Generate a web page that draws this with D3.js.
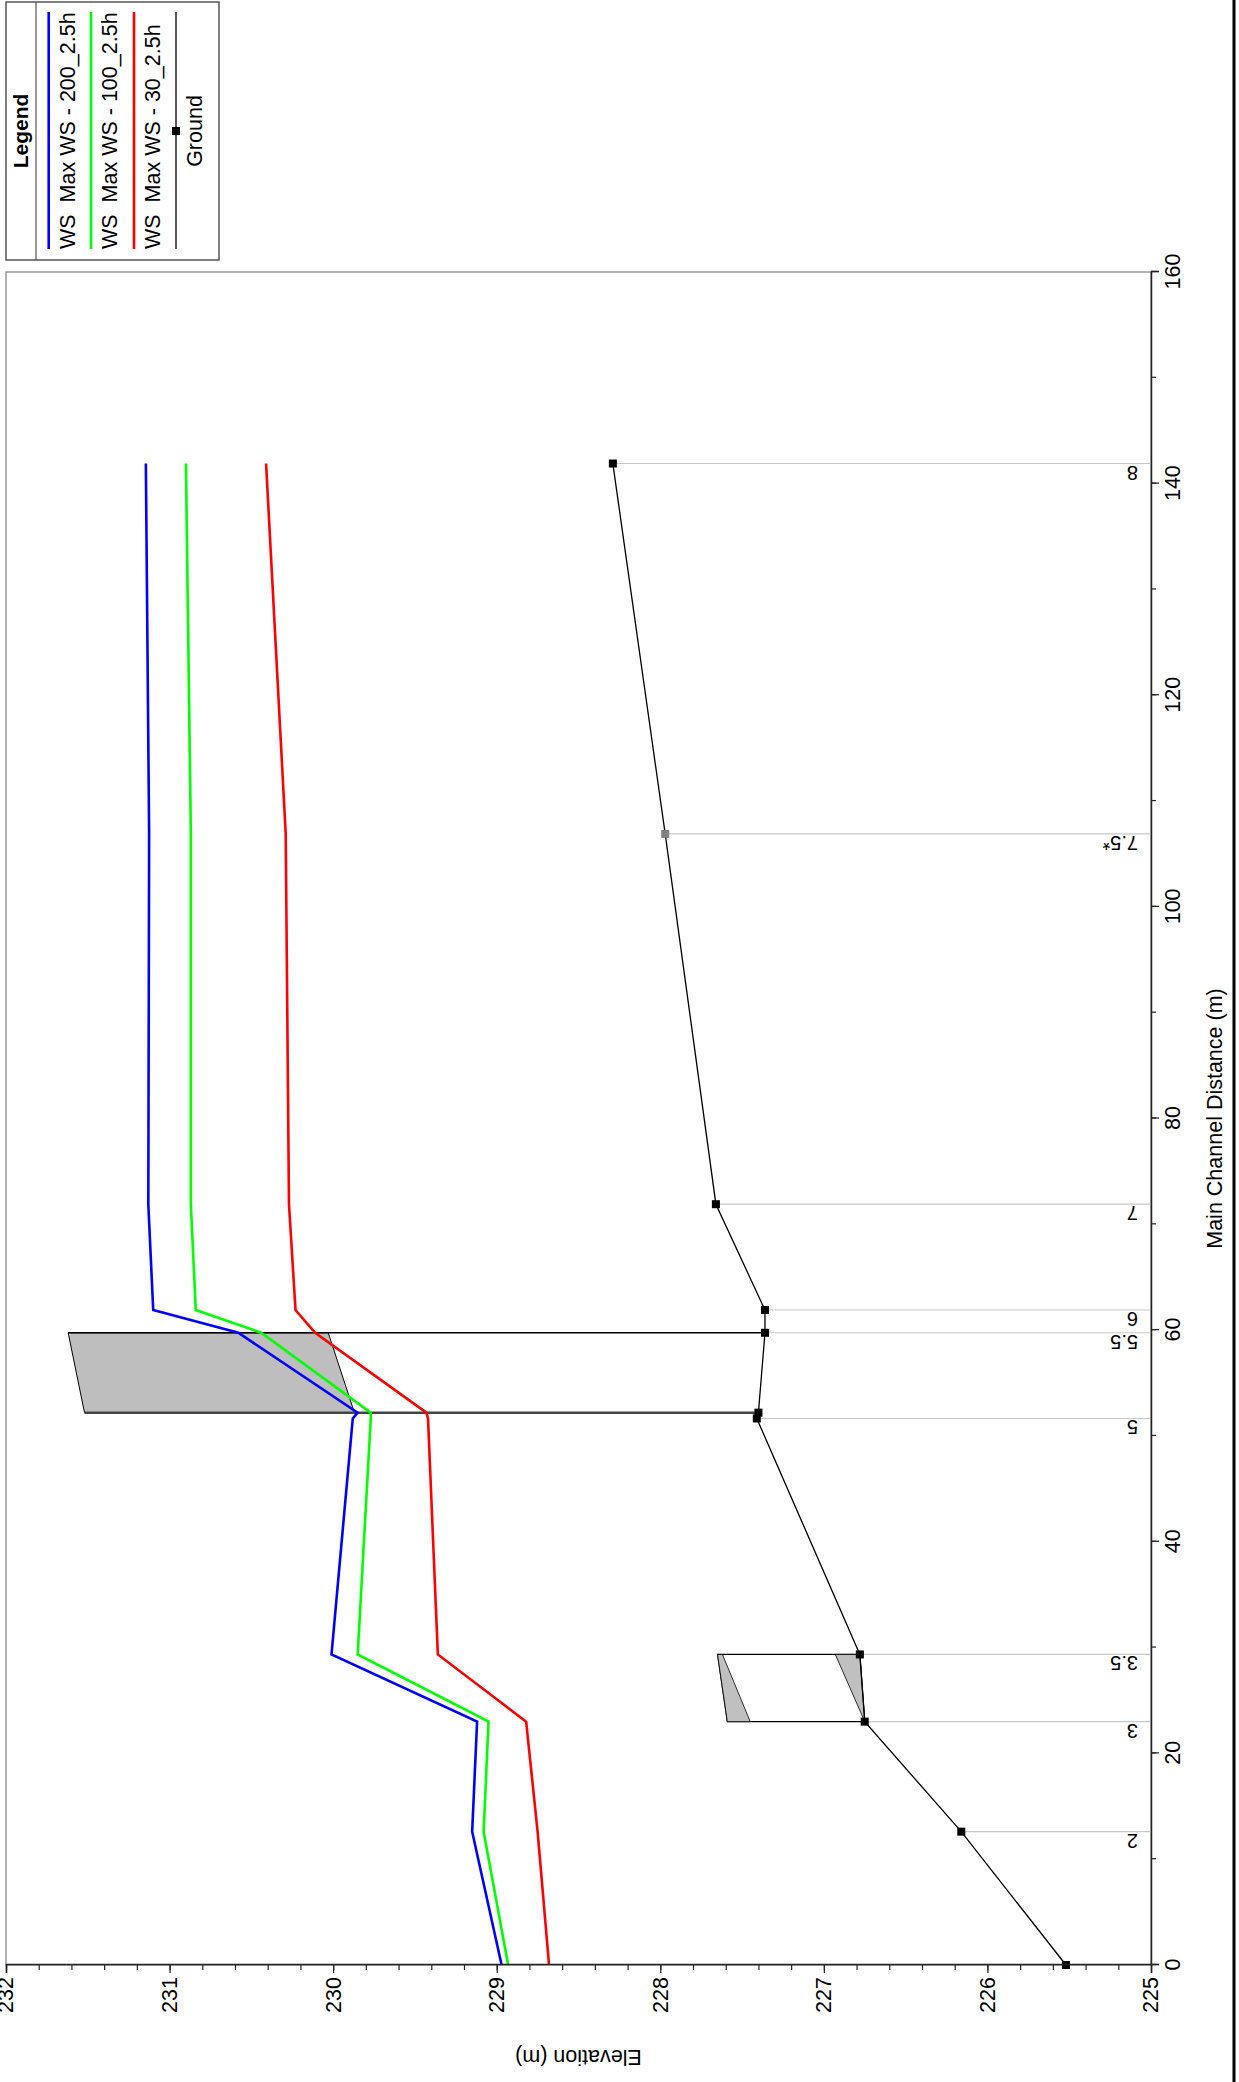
<!DOCTYPE html>
<html>
<head>
<meta charset="utf-8">
<script src="https://cdn.jsdelivr.net/npm/d3@7"></script>
<style>
  html, body { margin: 0; padding: 0; background: #fff; }
  svg { display: block; }
  text { font-family: Arial, "Liberation Sans", sans-serif; }
</style>
</head>
<body>
<svg id="chart" width="1239" height="2082"></svg>
<script>
// ---------- data ----------
const profileDist = [0, 12.6, 23.0, 29.35, 51.65, 52.2, 59.75, 61.9, 71.9, 106.9, 141.9];
const wsMax200 = [228.97, 229.15, 229.12, 230.01, 229.88, 229.85, 230.58, 231.10, 231.13, 231.125, 231.145];
const wsMax100 = [228.93, 229.08, 229.05, 229.85, 229.77, 229.77, 230.44, 230.84, 230.87, 230.87, 230.90];
const wsMax30  = [228.68, 228.75, 228.82, 229.36, 229.42, 229.43, 230.11, 230.23, 230.27, 230.29, 230.41];
const groundElev = [225.52, 226.16, 226.75, 226.78, 227.41, 227.40, 227.36, 227.36, 227.66, 227.97, 228.29];
const groundInterp = [false, false, false, false, false, false, false, false, false, true, false];

const stationLabels = ["2", "3", "3.5", "5", "5.5", "6", "7", "7.5*", "8"];
const stationDist   = [12.6, 23.0, 29.35, 51.65, 59.75, 61.9, 71.9, 106.9, 141.9];
const stationGround = [226.16, 226.75, 226.78, 227.41, 227.36, 227.36, 227.66, 227.97, 228.29];

// structures [distance, elevation]
const bigDeck = [[59.75, 231.62], [52.2, 231.52], [52.2, 229.87], [59.75, 230.03]];
const bigFaceUp = [[59.75, 231.62], [59.75, 227.36]];
const bigFaceDown = [[52.2, 231.52], [52.2, 227.40]];
const smallOutline = [[29.35, 227.65], [29.35, 226.78], [23.0, 226.75], [23.0, 227.59]];
const smallGrayLeft = [[29.35, 227.65], [29.35, 227.62], [23.0, 227.45], [23.0, 227.59]];
const smallGrayRight = [[29.35, 226.93], [29.35, 226.78], [23.0, 226.75]];

const distTicks = [0, 20, 40, 60, 80, 100, 120, 140, 160];
const distMinor = d3.range(0, 161, 10);
const elevTicks = [225, 226, 227, 228, 229, 230, 231, 232];
const elevMinor = d3.range(0, 36).map(i => +(225 + i * 0.2).toFixed(1));

const seriesNames = ["WS  Max WS - 200_2.5h", "WS  Max WS - 100_2.5h", "WS  Max WS - 30_2.5h"];
const seriesColors = ["#0000ff", "#00ff00", "#ff0000"];
const seriesValues = [wsMax200, wsMax100, wsMax30];

// ---------- layout (drawn in landscape, rotated into the portrait page) ----------
const W = 2082, H = 1239;
const svg = d3.select("#chart");
const root = svg.append("g").attr("transform", `translate(0,${W}) rotate(-90)`);

const x = d3.scaleLinear().domain([0, 160]).range([117, 1810]);
const y = d3.scaleLinear().domain([225, 232]).range([1151, 6]);
const FONT = 'Arial, "Liberation Sans", sans-serif';

// bottom page rule
root.append("line").attr("x1", 0).attr("x2", W).attr("y1", 1234).attr("y2", 1234)
  .attr("stroke", "#000").attr("stroke-width", 3);

// plot frame
root.append("rect").attr("x", x(0)).attr("y", y(232)).attr("width", x(160) - x(0)).attr("height", y(225) - y(232))
  .attr("fill", "none").attr("stroke", "#808080").attr("stroke-width", 1.2);

// station drop lines
const line = d3.line().x(d => x(d[0])).y(d => y(d[1]));
root.append("g").selectAll("line").data(stationDist).join("line")
  .attr("x1", d => x(d)).attr("x2", d => x(d))
  .attr("y1", (d, i) => y(stationGround[i])).attr("y2", y(225))
  .attr("stroke", "#c8c8c8").attr("stroke-width", 1.2);

// station labels
root.append("g").selectAll("text").data(stationLabels).join("text")
  .attr("transform", (d, i) => `translate(${x(stationDist[i]) - 2},${y(225) - 13}) rotate(-90)`)
  .attr("text-anchor", "start").attr("font-size", 20).attr("fill", "#000").text(d => d);

// small structure
root.append("path").attr("d", line(smallOutline) + "Z").attr("fill", "#fff").attr("stroke", "#000").attr("stroke-width", 1.2);
root.append("path").attr("d", line(smallGrayLeft) + "Z").attr("fill", "#c0c0c0").attr("stroke", "#000").attr("stroke-width", 0.8);
root.append("path").attr("d", line(smallGrayRight) + "Z").attr("fill", "#c0c0c0").attr("stroke", "#000").attr("stroke-width", 0.8);

// big structure
root.append("path").attr("d", line(bigDeck) + "Z").attr("fill", "#bebebe").attr("stroke", "#000").attr("stroke-width", 1);
root.append("path").attr("d", line(bigFaceUp)).attr("stroke", "#000").attr("stroke-width", 1.5).attr("fill", "none");
root.append("path").attr("d", line(bigFaceDown)).attr("stroke", "#444").attr("stroke-width", 2.5).attr("fill", "none");

// ground line
const groundPts = profileDist.map((d, i) => [d, groundElev[i]]);
root.append("path").attr("d", line(groundPts)).attr("fill", "none").attr("stroke", "#000").attr("stroke-width", 1.3);

// water surface lines
seriesValues.forEach((vals, k) => {
  const pts = profileDist.map((d, i) => [d, vals[i]]);
  root.append("path").attr("d", line(pts)).attr("fill", "none")
    .attr("stroke", seriesColors[k]).attr("stroke-width", 2.6).attr("stroke-linejoin", "miter");
});

// ground markers
root.append("g").selectAll("rect").data(groundPts).join("rect")
  .attr("x", d => x(d[0]) - 4).attr("y", d => y(d[1]) - 4).attr("width", 8).attr("height", 8)
  .attr("fill", (d, i) => groundInterp[i] ? "#808080" : "#000");

// axes
const xAxis = root.append("g").attr("transform", `translate(0,${y(225)})`)
  .call(d3.axisBottom(x).tickValues(distTicks).tickSize(8).tickPadding(6).tickFormat(d3.format("d")));
root.append("g").attr("transform", `translate(0,${y(225)})`)
  .call(d3.axisBottom(x).tickValues(distMinor).tickSize(5).tickFormat(""))
  .call(g => g.select(".domain").remove());
const yAxis = root.append("g").attr("transform", `translate(${x(0)},0)`)
  .call(d3.axisLeft(y).tickValues(elevTicks).tickSize(8).tickPadding(4).tickFormat(d3.format("d")));
root.append("g").attr("transform", `translate(${x(0)},0)`)
  .call(d3.axisLeft(y).tickValues(elevMinor).tickSize(5).tickFormat(""))
  .call(g => g.select(".domain").remove());
root.selectAll(".domain").attr("stroke", "#222").attr("stroke-width", 1.5);
root.selectAll(".tick line").attr("stroke", "#222").attr("stroke-width", 1.2);
[xAxis, yAxis].forEach(a => a.selectAll("text").attr("font-size", 21.5).attr("font-family", FONT).attr("fill", "#000"));

// axis titles
root.append("text").attr("x", (x(0) + x(160)) / 2).attr("y", 1222)
  .attr("text-anchor", "middle").attr("font-size", 21.5).text("Main Channel Distance (m)");
root.append("text").attr("transform", `translate(32,${(y(225) + y(232)) / 2}) rotate(-90)`)
  .attr("text-anchor", "middle").attr("font-size", 21.5).text("Elevation (m)");

// legend
const lg = root.append("g");
const lx0 = 1822, lx1 = 2080, ly0 = 6, ly1 = 219;
lg.append("rect").attr("x", lx0).attr("y", ly0).attr("width", lx1 - lx0).attr("height", ly1 - ly0)
  .attr("fill", "#fff").attr("stroke", "#555").attr("stroke-width", 1.5);
lg.append("line").attr("x1", lx0).attr("x2", lx1).attr("y1", 36).attr("y2", 36).attr("stroke", "#555").attr("stroke-width", 1.2);
lg.append("text").attr("x", (lx0 + lx1) / 2).attr("y", 28).attr("text-anchor", "middle")
  .attr("font-size", 21).attr("font-weight", "bold").text("Legend");
const itemY = [48.7, 91, 134];
seriesNames.forEach((name, k) => {
  lg.append("line").attr("x1", 1833).attr("x2", 2070).attr("y1", itemY[k]).attr("y2", itemY[k])
    .attr("stroke", seriesColors[k]).attr("stroke-width", 2.6);
  lg.append("text").attr("x", 1833).attr("y", itemY[k] + 26).attr("font-size", 21.5)
    .attr("xml:space", "preserve").style("white-space", "pre").text(name);
});
lg.append("line").attr("x1", 1833).attr("x2", 2070).attr("y1", 176).attr("y2", 176).attr("stroke", "#000").attr("stroke-width", 1.3);
lg.append("rect").attr("x", 1947).attr("y", 172).attr("width", 8).attr("height", 8).attr("fill", "#000");
lg.append("text").attr("x", 1951).attr("y", 202).attr("text-anchor", "middle").attr("font-size", 21.5).text("Ground");
</script>
</body>
</html>
